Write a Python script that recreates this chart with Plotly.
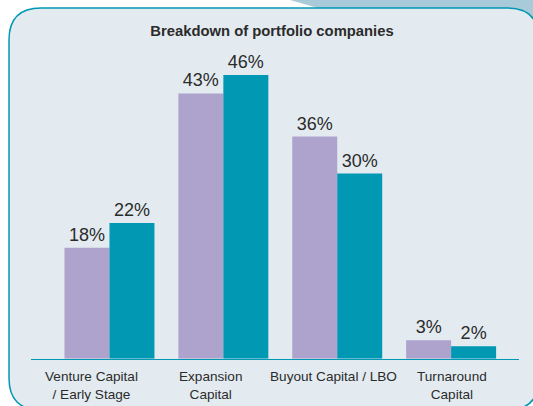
import plotly.graph_objects as go

categories = ["Venture Capital<br>/ Early Stage", "Expansion<br>Capital",
              "Buyout Capital / LBO", "Turnaround<br>Capital"]
series_a = [18, 43, 36, 3]   # purple bars
series_b = [22, 46, 30, 2]   # teal bars
label_shift = [-18, -13, -4, 1]

W, H = 533, 406
FONT = "Liberation Sans Narrow, Arial Narrow, Liberation Sans, sans-serif"
PURPLE = "#ada3cd"
TEAL = "#0098b3"
BG = "#e3ebf1"
TXT = "#2b2b2b"


def px(x, y):
    return f"{x / W:.5f},{1 - y / H:.5f}"


def rounded_rect(x0, y0, x1, y1, r):
    return (f"M {px(x0 + r, y0)} L {px(x1 - r, y0)} "
            f"Q {px(x1, y0)} {px(x1, y0 + r)} L {px(x1, y1 - r)} "
            f"Q {px(x1, y1)} {px(x1 - r, y1)} L {px(x0 + r, y1)} "
            f"Q {px(x0, y1)} {px(x0, y1 - r)} L {px(x0, y0 + r)} "
            f"Q {px(x0, y0)} {px(x0 + r, y0)} Z")


xs = list(range(len(categories)))

fig = go.Figure()
fig.add_bar(x=xs, y=series_a, marker_color=PURPLE, marker_line_width=0,
            text=[f"{v}%" for v in series_a], textposition="outside",
            cliponaxis=False, textfont=dict(family=FONT, size=18, color=TXT),
            showlegend=False, hoverinfo="skip")
fig.add_bar(x=xs, y=series_b, marker_color=TEAL, marker_line_width=0,
            text=[f"{v}%" for v in series_b], textposition="outside",
            cliponaxis=False, textfont=dict(family=FONT, size=18, color=TXT),
            showlegend=False, hoverinfo="skip")

shapes = [
    dict(type="path", xref="paper", yref="paper", layer="below",
         path=f"M {px(290, 0)} L {px(533, 0)} L {px(533, 40)} L {px(325, 10)} Z",
         fillcolor="#a9cbd9", line=dict(width=0)),
    dict(type="path", xref="paper", yref="paper", layer="below",
         path=rounded_rect(9, 8, 539, 410, 32),
         fillcolor=BG, line=dict(color=TEAL, width=1.5)),
]

annotations = []
for i, (c, s) in enumerate(zip(categories, label_shift)):
    annotations.append(dict(x=i, xref="x", y=1 - 367 / H, yref="paper",
                            yanchor="top", xanchor="center", xshift=s,
                            text=c, showarrow=False, align="center",
                            font=dict(family=FONT, size=13.6, color=TXT)))

y_top = (358.7 - 30) / 6.17
fig.update_layout(
    width=W, height=H, margin=dict(l=0, r=0, t=0, b=0),
    paper_bgcolor="white", plot_bgcolor="rgba(0,0,0,0)",
    barmode="group", bargap=0.21, bargroupgap=0,
    title=dict(text="<b>Breakdown of portfolio companies</b>",
               x=272 / W, xanchor="center", xref="paper",
               y=1 - 31 / H, yanchor="middle", yref="paper",
               font=dict(family=FONT, size=14.8, color=TXT)),
    xaxis=dict(domain=[31 / W, 519 / W], range=[-0.689, 3.596],
               showticklabels=False, showgrid=False, zeroline=False,
               showline=True, linecolor=TEAL, linewidth=1.2, ticks=""),
    yaxis=dict(domain=[1 - 358.7 / H, 1 - 30 / H], range=[0, y_top],
               visible=False, showgrid=False, zeroline=False),
    shapes=shapes, annotations=annotations,
)

fig.write_html("out.html", config={"displayModeBar": False},
               post_script="document.documentElement.style.overflow='hidden';"
                           "document.documentElement.style.background='" + BG + "';"
                           "document.body.style.background='" + BG + "';"
                           "document.body.style.margin='0';"
                           "document.body.style.overflow='hidden';")
